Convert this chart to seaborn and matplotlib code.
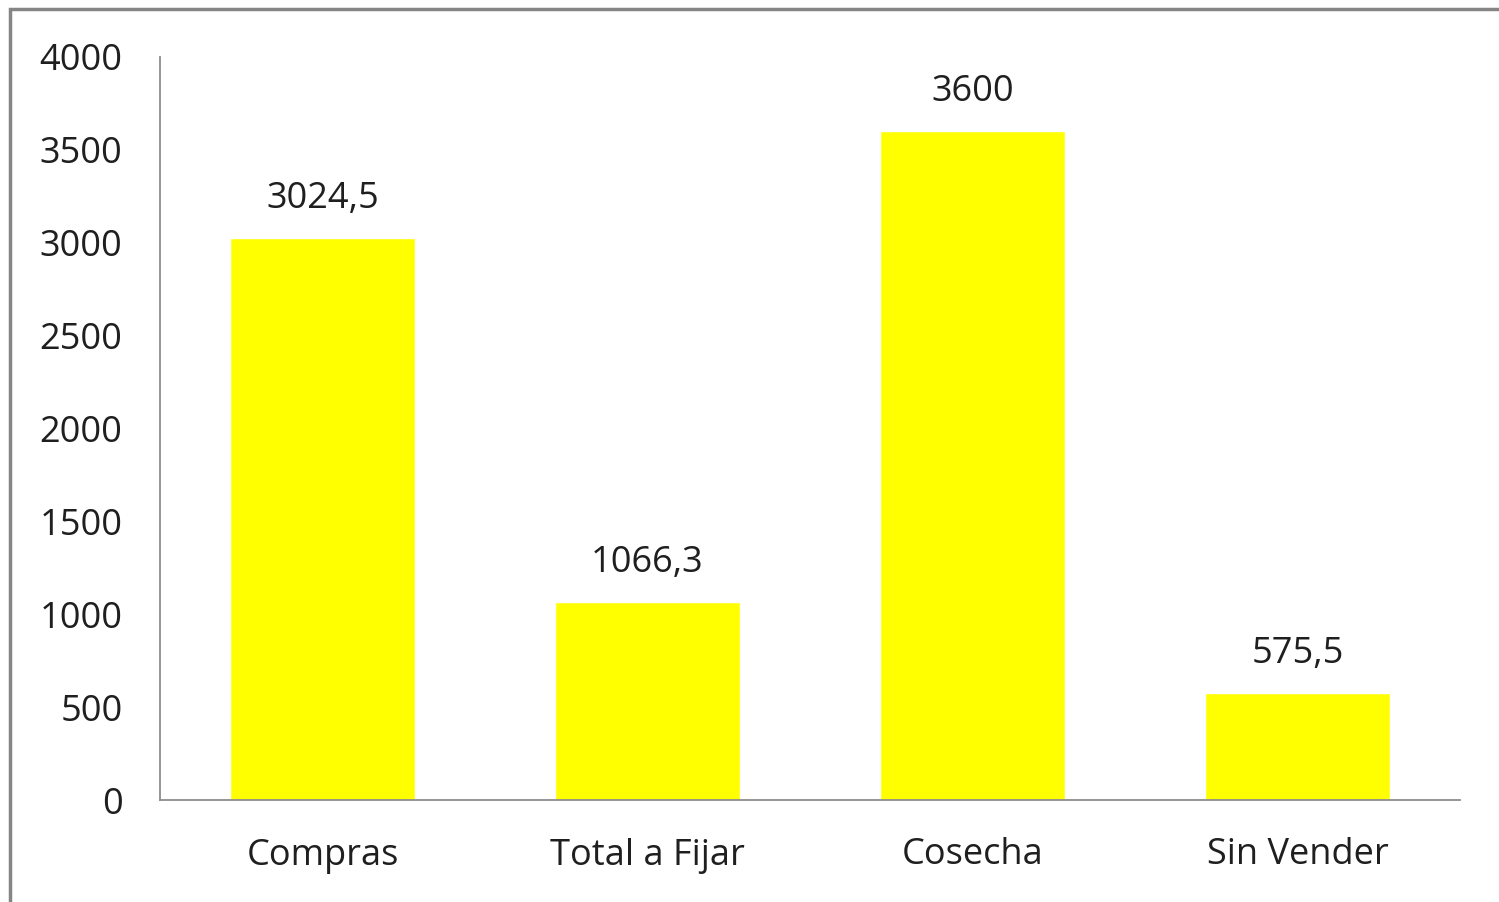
import seaborn as sns
import pandas as pd
import matplotlib.pyplot as plt
from matplotlib.patches import Rectangle

# chart values
categories = ["Compras", "Total a Fijar", "Cosecha", "Sin Vender"]
values = [3024.5, 1066.3, 3600, 575.5]
value_labels = ["3024,5", "1066,3", "3600", "575,5"]
y_ticks = [0, 500, 1000, 1500, 2000, 2500, 3000, 3500, 4000]

sns.set_style("white")
plt.rcParams['font.family'] = ['Open Sans', 'DejaVu Sans']

W, H = 1499, 902
fig = plt.figure(figsize=(W / 100, H / 100), dpi=100)
ax = fig.add_axes([160 / W, 1 - 800 / H, 1300 / W, 743 / H])

data = pd.DataFrame({"cat": categories, "val": values})
sns.barplot(data=data, x="cat", y="val", color="#FFFF00", saturation=1,
            width=0.57, ax=ax)

ax.set_xlim(-0.5, 3.5)
ax.set_ylim(0, 4000)
ax.set_yticks(y_ticks)
ax.set_yticklabels([str(t) for t in y_ticks])
ax.set_xlabel("")
ax.set_ylabel("")

for s in ["top", "right"]:
    ax.spines[s].set_visible(False)
for s in ["left", "bottom"]:
    ax.spines[s].set_color("#8C8C8C")
    ax.spines[s].set_linewidth(1.3)

ax.tick_params(axis="both", length=0, labelsize=26, colors="#1F1F1F")
ax.tick_params(axis="y", pad=27)
ax.tick_params(axis="x", pad=27)

for i, (v, lab) in enumerate(zip(values, value_labels)):
    ax.annotate(lab, (i, v), xytext=(0, 15), textcoords="offset points",
                ha="center", va="bottom", fontsize=26, color="#1F1F1F")

# outer chart frame
fig.patches.append(Rectangle((9.5 / W, -0.1), 1.2, (1 - 8.5 / H) + 0.1,
                             transform=fig.transFigure, fill=False,
                             edgecolor="#858585", linewidth=2.5))

fig.savefig("out.png", dpi=100)
